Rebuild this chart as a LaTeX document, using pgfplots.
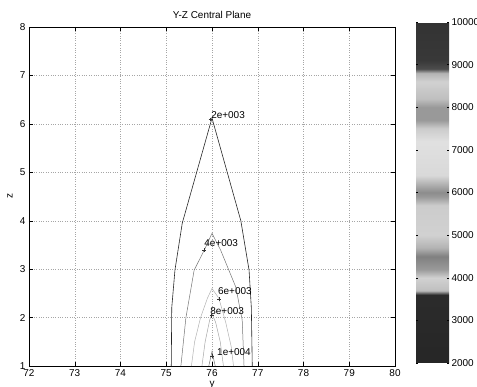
\documentclass[border=0pt]{standalone}
\usepackage{pgfplots}
\pgfplotsset{compat=1.18}
\usepackage{fontspec}
\setmainfont{Liberation Sans}

\begin{document}
\begin{tikzpicture}
\path[use as bounding box] (-29bp,-21bp) rectangle (448bp,366bp);
\begin{axis}[
  at={(0,0)}, anchor=south west,
  scale only axis, width=366bp, height=339bp,
  xmin=72, xmax=80, ymin=1, ymax=8,
  xtick={72,...,80}, ytick={1,...,8},
  tick align=inside, tick pos=both, major tick length=4bp,
  grid=major, grid style={dotted, black!35, line width=0.4pt},
  axis line style={line width=0.5pt},
  tick style={black, line width=0.4pt},
  font=\fontsize{10}{12}\selectfont,
  /pgf/number format/assume math mode=true,
  title={Y-Z Central Plane},
  every axis title/.style={at={(axis description cs:0.5,1)}, anchor=base, inner sep=0pt, yshift=8bp},
  xlabel={y}, ylabel={z},
  every axis x label/.style={at={(axis description cs:0.5,0)}, anchor=base, inner sep=0pt, yshift=-20bp},
  every axis y label/.style={at={(axis description cs:0,0.5)}, xshift=-19bp, rotate=90, anchor=center, inner sep=0pt},
  colormap={cb}{
    gray(0cm)=(0.15); gray(16cm)=(0.17); gray(17cm)=(0.75); gray(20cm)=(0.82);
    gray(22cm)=(0.6); gray(25cm)=(0.5); gray(27cm)=(0.7); gray(30cm)=(0.82);
    gray(37cm)=(0.8); gray(39cm)=(0.6); gray(40cm)=(0.55); gray(42cm)=(0.7);
    gray(44cm)=(0.85); gray(52cm)=(0.88); gray(55cm)=(0.8); gray(57cm)=(0.6);
    gray(60cm)=(0.6); gray(62cm)=(0.75); gray(66cm)=(0.82); gray(68cm)=(0.7);
    gray(69cm)=(0.3); gray(71cm)=(0.22); gray(80cm)=(0.2)
  },
  point meta min=2000, point meta max=10000,
  colorbar,
  colorbar/width=33bp,
  colorbar shift/.style={},
  colorbar style={
    at={(parent axis.south east)}, anchor=south west,
    xshift=21bp, yshift=3bp,
    scale only axis, height=341bp,
    ytick={2000,3000,...,10000},
    scaled y ticks=false,
    yticklabel style={/pgf/number format/1000 sep={}, font=\fontsize{10}{12}\selectfont, xshift=-1bp},
    yticklabel pos=right, ytick pos=both, tick align=inside,
    major tick length=2bp,
    axis line style={draw=none},
    /pgf/number format/assume math mode=true,
  },
]
% 2000 contour
\addplot[black!85, line width=0.6pt] coordinates {
  (75.11,1) (75.12,2.2) (75.19,2.98) (75.35,3.95) (76,6.12)
  (76.63,4.0) (76.81,2.98) (76.86,2.2) (76.88,1)
};
% 4000 contour
\addplot[black!55, line width=0.5pt] coordinates {
  (75.32,1) (75.43,2.0) (75.61,2.98) (75.83,3.39) (76,3.74)
  (76.19,3.39) (76.52,2.63) (76.66,1.95) (76.7,1)
};
% 6000 contour
\addplot[black!30, line width=0.5pt] coordinates {
  (75.55,1) (75.62,1.5) (75.75,2.0) (75.9,2.4) (76,2.6)
  (76.15,2.4) (76.3,1.9) (76.42,1.4) (76.47,1)
};
% 8000 contour
\addplot[black!35, line width=0.5pt] coordinates {
  (75.78,1) (75.85,1.5) (75.95,1.95) (76,2.08) (76.08,1.9) (76.18,1.5) (76.25,1)
};
% 10000 contour
\addplot[black!55, line width=0.5pt] coordinates {
  (75.93,1) (76,1.3) (76.07,1)
};
% label anchors
\addplot[only marks, mark=+, mark size=2pt, black!80, line width=0.4pt] coordinates {
  (75.97,6.09) (75.83,3.39) (76.15,2.38) (75.99,2.04) (76.0,1.2)
};
\node[anchor=west, inner sep=0pt] at (axis cs:75.98,6.18) {2e+003};
\node[anchor=west, inner sep=0pt] at (axis cs:75.83,3.54) {4e+003};
\node[anchor=west, inner sep=0pt] at (axis cs:76.13,2.55) {6e+003};
\node[anchor=west, inner sep=0pt] at (axis cs:75.96,2.13) {8e+003};
\node[anchor=west, inner sep=0pt] at (axis cs:76.11,1.29) {1e+004};
\end{axis}
\end{tikzpicture}
\end{document}
